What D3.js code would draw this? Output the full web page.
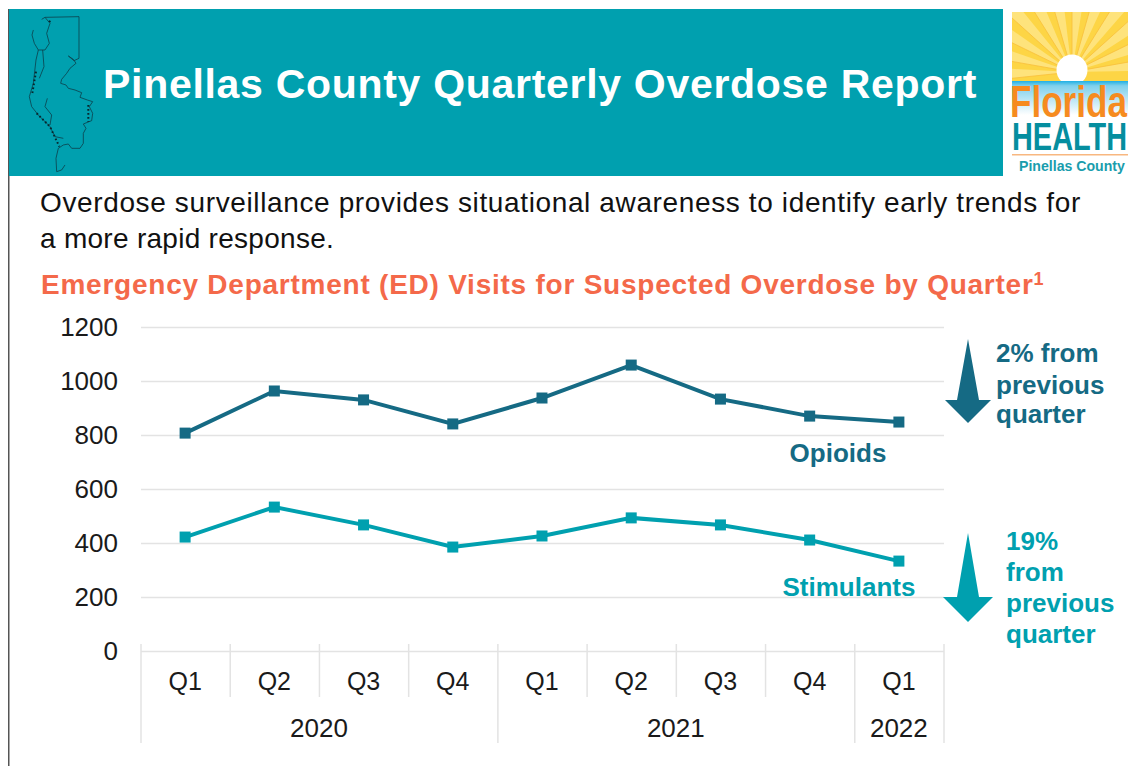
<!DOCTYPE html>
<html>
<head>
<meta charset="utf-8">
<title>Pinellas County Quarterly Overdose Report</title>
<script src="https://cdn.jsdelivr.net/npm/d3@7"></script>
<style>
  html, body { margin: 0; padding: 0; background: #fff; }
  svg { display: block; }
  text { font-family: "Liberation Sans", Arial, sans-serif; }
</style>
</head>
<body>
<div id="chart"></div>
<script>
const quarters = ['Q1', 'Q2', 'Q3', 'Q4', 'Q1', 'Q2', 'Q3', 'Q4', 'Q1']
const years = ['2020', '2021', '2022']
const yearSpans = [4, 4, 1]
const opioids = [807, 963, 930, 841, 937, 1059, 933, 870, 848]
const stimulants = [422, 533, 467, 385, 426, 493, 467, 411, 333]
const yTicks = [0, 200, 400, 600, 800, 1000, 1200]

const teal = '#00a0af'
const darkTeal = '#156a84'
const orange = '#f4694a'
const gridColor = '#e3e3e3'
const textColor = '#1a1a1a'

const width = 1128
const height = 766
const plot = { left: 141, right: 944, top: 327, bottom: 651 }

const svg = d3.select('#chart').append('svg')
  .attr('width', width)
  .attr('height', height)

// slide edge and banner
svg.append('rect').attr('x', 8).attr('y', 9).attr('width', 1.5).attr('height', 757).attr('fill', '#555')
svg.append('rect').attr('x', 9).attr('y', 9).attr('width', 994).attr('height', 167).attr('fill', teal)

// county outline in the banner, traced at 3x
const county = svg.append('g').attr('transform', 'scale(0.3333)')
  .attr('fill', 'none').attr('stroke', '#0c3f4a').attr('stroke-width', 2.4).attr('stroke-linejoin', 'round')
county.append('path').attr('d',
  'M125,58 L135,52 L237,50 L237,175 L222,182 L205,168 L220,178 L228,190 L210,205 L200,220 L185,238 L182,250 L198,255 L205,265 L225,270 L245,278 L240,292 L262,300 L278,305 L268,320 L278,340 L275,362 L250,372 L258,385 L250,400 L250,430 L240,445 L215,445 L205,432 L190,435 L175,445 L168,475 L170,515 L185,510 L195,495')
county.append('path').attr('d',
  'M135,52 L150,70 L140,100 L148,130 L135,150 L115,150 L108,180 L100,250 L88,290 L95,320 L115,345 L150,380 L165,410 L190,415 M100,90 L96,105 L103,130 L115,150 M142,295 L135,320 L155,345 L150,375 M128,150 L132,200 L118,235')
county.append('path').attr('stroke', '#08262d').attr('stroke-width', 6).attr('stroke-dasharray', '5 7').attr('d',
  'M108,215 L96,285 M110,340 L150,380 L178,440 M265,315 L265,365 M150,62 L146,72')

// logo
const defs = svg.append('defs')
const water = defs.append('linearGradient').attr('id', 'water').attr('x1', 0).attr('x2', 0).attr('y1', 0).attr('y2', 1)
water.append('stop').attr('offset', 0).attr('stop-color', '#1fb0e4')
water.append('stop').attr('offset', 0.12).attr('stop-color', '#7fd0ec')
water.append('stop').attr('offset', 0.85).attr('stop-color', '#ffffff')
defs.append('clipPath').attr('id', 'logoClip').append('rect')
  .attr('x', 1012).attr('y', 12).attr('width', 116).attr('height', 69)

const logo = svg.append('g')
const sun = logo.append('g').attr('clip-path', 'url(#logoClip)')
sun.append('rect').attr('x', 1012).attr('y', 12).attr('width', 116).attr('height', 69).attr('fill', '#fdd545')
d3.range(-96, 96, 16).forEach(a => {
  const r0 = a * Math.PI / 180
  const r1 = (a + 9) * Math.PI / 180
  sun.append('path')
    .attr('d', `M1072,72 L${1072 + 140 * Math.sin(r0)},${72 - 140 * Math.cos(r0)} L${1072 + 140 * Math.sin(r1)},${72 - 140 * Math.cos(r1)} Z`)
    .attr('fill', '#fee37c')
  sun.append('line')
    .attr('x1', 1072).attr('y1', 72)
    .attr('x2', 1072 + 140 * Math.sin(r0)).attr('y2', 72 - 140 * Math.cos(r0))
    .attr('stroke', '#f9bf3a').attr('stroke-width', 0.8)
})
logo.append('circle').attr('cx', 1072).attr('cy', 70).attr('r', 15.5).attr('fill', '#fff')
logo.append('rect').attr('x', 1012).attr('y', 81).attr('width', 116).attr('height', 40).attr('fill', 'url(#water)')

// squeeze logo words to a set width
const fitWord = (label, xPos, yPos, size, color, w) => {
  const t = logo.append('text').attr('font-size', size).attr('font-weight', 'bold').attr('fill', color).text(label)
  const k = w / t.node().getComputedTextLength()
  t.attr('transform', `translate(${xPos},${yPos}) scale(${k},1)`)
}
fitWord('Florida', 1010, 117, 44, '#f68b1f', 117)
fitWord('HEALTH', 1012, 150, 38, '#058e9f', 115)
logo.append('rect').attr('x', 1012).attr('y', 154).attr('width', 116).attr('height', 1.5).attr('fill', '#f8b780')
fitWord('Pinellas County', 1019, 171, 15, '#1a9dad', 106)

// headings
svg.append('text').attr('x', 103).attr('y', 98)
  .attr('font-size', 41).attr('font-weight', 'bold').attr('fill', '#fff').attr('letter-spacing', 0.7)
  .text('Pinellas County Quarterly Overdose Report')

svg.append('text').attr('x', 40).attr('y', 212)
  .attr('font-size', 28).attr('fill', '#111').attr('letter-spacing', 0.63)
  .text('Overdose surveillance provides situational awareness to identify early trends for')
svg.append('text').attr('x', 40).attr('y', 248)
  .attr('font-size', 28).attr('fill', '#111').attr('letter-spacing', 0.28)
  .text('a more rapid response.')

const chartTitle = svg.append('text').attr('x', 41).attr('y', 294)
  .attr('font-size', 28).attr('font-weight', 'bold').attr('fill', orange).attr('letter-spacing', 0.76)
chartTitle.append('tspan').text('Emergency Department (ED) Visits for Suspected Overdose by Quarter')
chartTitle.append('tspan').attr('font-size', 18).attr('dy', -9).text('1')

// scales
const x = d3.scaleBand().domain(d3.range(quarters.length)).range([plot.left, plot.right])
const y = d3.scaleLinear().domain([0, 1200]).range([plot.bottom, plot.top])

// y axis and gridlines
const yAxis = svg.append('g')
  .attr('transform', `translate(${plot.left},0)`)
  .call(d3.axisLeft(y).tickValues(yTicks).tickFormat(d3.format('d')).tickSize(-(plot.right - plot.left)).tickPadding(23))
yAxis.select('.domain').remove()
yAxis.selectAll('.tick line').attr('stroke', gridColor).attr('stroke-width', 1.5)
yAxis.selectAll('.tick text').attr('font-size', 26).attr('fill', textColor).attr('font-family', '"Liberation Sans", Arial, sans-serif')

// quarter labels and separators
const xAxis = svg.append('g')
  .attr('transform', `translate(0,${plot.bottom})`)
  .call(d3.axisBottom(x).tickFormat(i => quarters[i]).tickSize(0).tickPadding(21))
xAxis.select('.domain').remove()
xAxis.selectAll('.tick text').attr('font-size', 25).attr('fill', textColor).attr('dx', -0.5).attr('font-family', '"Liberation Sans", Arial, sans-serif')

const sep = svg.append('g').attr('stroke', gridColor).attr('stroke-width', 1.5)
const yearStarts = d3.cumsum([0].concat(yearSpans))
d3.range(quarters.length + 1).forEach(i => {
  const isYear = yearStarts.includes(i)
  const px = i < quarters.length ? x(i) : plot.right
  sep.append('line').attr('x1', px).attr('x2', px)
    .attr('y1', plot.bottom - 7).attr('y2', isYear ? plot.bottom + 92 : plot.bottom + 46)
})

// year labels
svg.append('g').selectAll('text').data(years).join('text')
  .attr('x', (d, i) => {
    const a = yearStarts[i]
    const b = yearStarts[i + 1]
    return (x(a) + (b < quarters.length ? x(b) : plot.right)) / 2 - 0.5
  })
  .attr('y', plot.bottom + 86)
  .attr('text-anchor', 'middle').attr('font-size', 26).attr('fill', textColor)
  .text(d => d)

// lines
const line = d3.line().x((d, i) => x(i) + x.bandwidth() / 2 - 0.5).y(d => y(d))
const drawSeries = (values, color) => {
  svg.append('path').datum(values)
    .attr('d', line).attr('fill', 'none').attr('stroke', color).attr('stroke-width', 4)
  svg.append('g').selectAll('rect').data(values).join('rect')
    .attr('x', (d, i) => x(i) + x.bandwidth() / 2 - 6)
    .attr('y', d => y(d) - 5.5)
    .attr('width', 11).attr('height', 11).attr('fill', color)
}
drawSeries(opioids, darkTeal)
drawSeries(stimulants, teal)

// series labels
svg.append('text').attr('x', 838).attr('y', 462).attr('text-anchor', 'middle')
  .attr('font-size', 26).attr('font-weight', 'bold').attr('fill', darkTeal).text('Opioids')
svg.append('text').attr('x', 849).attr('y', 596).attr('text-anchor', 'middle')
  .attr('font-size', 26).attr('font-weight', 'bold').attr('fill', teal).text('Stimulants')

// change arrows
svg.append('path').attr('fill', darkTeal)
  .attr('d', 'M968,339 L979,400 L991,400 L968,423 L945,400 L957,400 Z')
svg.append('path').attr('fill', teal)
  .attr('d', 'M968,533 L979,597 L993,597 L968,622 L943,597 L957,597 Z')

const note = (lines, xPos, yPos, color) => {
  svg.append('g').selectAll('text').data(lines).join('text')
    .attr('x', xPos).attr('y', (d, i) => yPos[i])
    .attr('font-size', 26).attr('font-weight', 'bold').attr('fill', color)
    .text(d => d)
}
note(['2% from', 'previous', 'quarter'], 996, [362, 394, 423], darkTeal)
note(['19%', 'from', 'previous', 'quarter'], 1006, [550, 581, 612, 643], teal)
</script>
</body>
</html>
